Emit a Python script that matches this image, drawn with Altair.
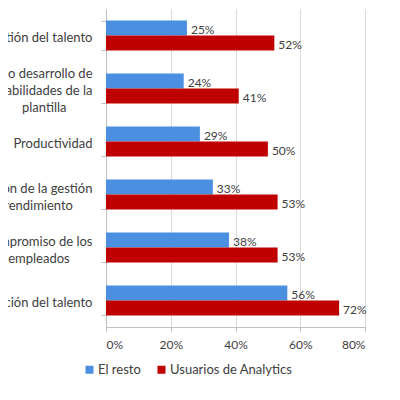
import altair as alt
import pandas as pd

EN = "\u2002"
NB = "\u00a0"
WJ = "\u2060"
categories = [
    "stión del talento",
    "do desarrollo de|habilidades de la|plantilla" + EN * 4 + WJ,
    "Productividad",
    "ción de la gestión|rendimiento" + EN * 3 + WJ,
    "mpromiso de los|empleados" + EN * 3 + NB + WJ,
    "nción del talento",
]
series = ["El resto", "Usuarios de Analytics"]
el_resto = [25, 24, 29, 33, 38, 56]
usuarios = [52, 41, 50, 53, 53, 72]
x_ticks = [0, 20, 40, 60, 80]
colors = ["#4A8FE0", "#C00000"]

rows = []
for c, a, b in zip(categories, el_resto, usuarios):
    rows.append({"cat": c, "serie": series[0], "v": a, "lbl": f"{a}%"})
    rows.append({"cat": c, "serie": series[1], "v": b, "lbl": f"{b}%"})
df = pd.DataFrame(rows)

FONT = "Lato"

label_offset = {
    "condition": [
        {"test": "length(split(datum.label, '|')) == 3", "value": -15},
        {"test": "length(split(datum.label, '|')) == 2", "value": -6.5},
    ],
    "value": 2,
}

y_enc = alt.Y(
    "cat:N",
    sort=categories,
    scale=alt.Scale(paddingInner=0.434, paddingOuter=0.217),
    axis=alt.Axis(
        title=None,
        labelExpr="split(datum.label, '|')",
        labelFont=FONT,
        labelFontSize=13,
        labelColor="#404040",
        labelLineHeight=17,
        labelLimit=300,
        labelPadding=9,
        labelOffset=label_offset,
        tickBand="extent",
        tickSize=5,
        tickColor="#BFBFBF",
        domainColor="#BFBFBF",
    ),
)
x_enc = alt.X(
    "v:Q",
    scale=alt.Scale(domain=[0, 80], nice=False),
    axis=alt.Axis(
        title=None,
        values=x_ticks,
        labelExpr="datum.value + '%'",
        labelFont=FONT,
        labelFontSize=12,
        labelColor="#404040",
        labelPadding=8,
        tickSize=4,
        tickColor="#BFBFBF",
        domainColor="#BFBFBF",
        grid=True,
        gridColor="#D9D9D9",
    ),
)
yoff = alt.YOffset("serie:N", sort=series)

bars = alt.Chart(df).mark_bar().encode(
    y=y_enc,
    x=x_enc,
    yOffset=yoff,
    color=alt.Color(
        "serie:N",
        sort=series,
        scale=alt.Scale(domain=series, range=colors),
        legend=alt.Legend(
            title=None,
            orient="none",
            direction="horizontal",
            legendX=-23,
            legendY=354,
            symbolType="square",
            symbolSize=64,
            symbolStrokeWidth=0,
            labelFont=FONT,
            labelFontSize=13,
            labelColor="#404040",
            labelOffset=2,
            columnPadding=14,
            padding=0,
        ),
    ),
)

labels = alt.Chart(df).mark_text(
    align="left", baseline="middle", dx=4, dy=2, font=FONT, fontSize=12, color="#404040"
).encode(
    y=alt.Y("cat:N", sort=categories),
    x="v:Q",
    yOffset=yoff,
    text="lbl:N",
)

chart = (
    alt.layer(bars, labels)
    .properties(
        width=259,
        height=318,
        autosize=alt.AutoSizeParams(type="none"),
        padding={"left": 98, "top": 1, "right": 10, "bottom": 50},
        background="white",
    )
    .configure_view(strokeWidth=0)
)

chart.save("out.html", embed_options={"renderer": "svg", "actions": False})
